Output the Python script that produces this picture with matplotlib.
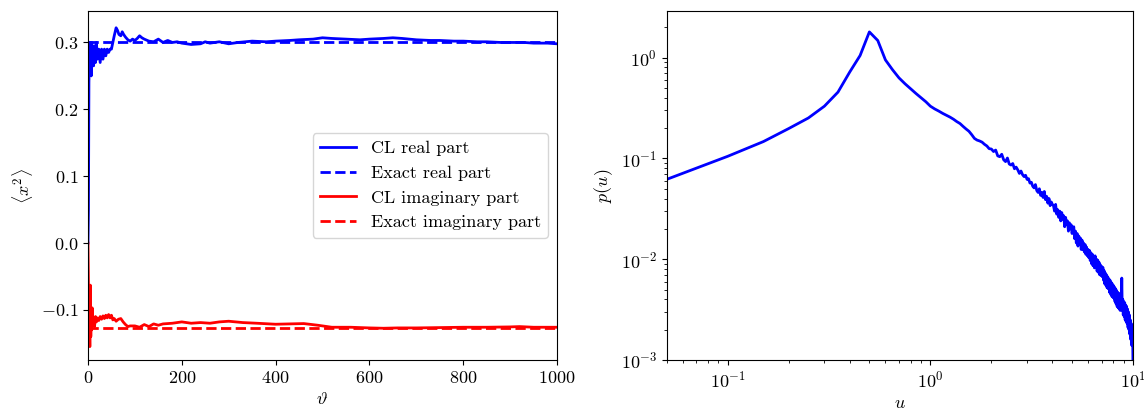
import numpy as np
import matplotlib
matplotlib.use("Agg")
import matplotlib.pyplot as plt

plt.rcParams["font.family"] = "serif"
plt.rcParams["font.serif"] = ["cmr10", "DejaVu Serif"]
plt.rcParams["mathtext.fontset"] = "cm"
plt.rcParams["axes.formatter.use_mathtext"] = True
plt.rcParams["axes.unicode_minus"] = True
plt.rcParams["font.size"] = 13

# --- left panel: running averages of <x^2> ---
theta_re = [0, 1, 2, 3, 4, 5, 6, 7, 8, 9, 10, 12, 14, 16, 18, 20, 23, 26, 29, 32,
            35, 38, 41, 44, 47, 50, 53, 56, 60, 63, 66, 70, 73, 76, 80, 85, 90, 95,
            100, 105, 110, 115, 120, 130, 140, 150, 160, 170, 180, 190, 200, 210,
            220, 240, 250, 260, 280, 300, 320, 350, 380, 400, 430, 450, 480, 500,
            520, 550, 580, 600, 630, 650, 670, 700, 730, 750, 780, 800, 830, 850,
            880, 900, 930, 950, 980, 1000]
cl_re = [0.0, 0.05, 0.24, 0.28, 0.30, 0.26, 0.29, 0.25, 0.30, 0.27, 0.29, 0.265,
         0.295, 0.27, 0.30, 0.275, 0.29, 0.27, 0.29, 0.275, 0.29, 0.28, 0.29, 0.285,
         0.29, 0.29, 0.30, 0.31, 0.322, 0.318, 0.312, 0.310, 0.316, 0.312, 0.308,
         0.304, 0.302, 0.305, 0.303, 0.306, 0.310, 0.307, 0.305, 0.302, 0.301, 0.305,
         0.300, 0.303, 0.300, 0.301, 0.299, 0.298, 0.297, 0.298, 0.301, 0.299,
         0.301, 0.298, 0.300, 0.302, 0.301, 0.302, 0.303, 0.304, 0.305, 0.307,
         0.306, 0.305, 0.304, 0.305, 0.306, 0.307, 0.306, 0.304, 0.303, 0.303,
         0.302, 0.302, 0.301, 0.301, 0.300, 0.300, 0.300, 0.299, 0.299, 0.298]

theta_im = [0, 1, 2, 3, 4, 5, 6, 7, 8, 9, 10, 12, 14, 16, 18, 20, 23, 26, 29, 32,
            35, 38, 41, 44, 47, 50, 53, 56, 60, 65, 70, 75, 80, 85, 90, 100, 110,
            120, 130, 140, 150, 160, 180, 200, 220, 240, 260, 280, 300, 330, 360,
            400, 430, 460, 490, 520, 560, 600, 630, 660, 700, 750, 800, 850, 900,
            920, 950, 1000]
cl_im = [0.0, -0.06, -0.15, -0.10, -0.155, -0.063, -0.14, -0.10, -0.13, -0.097,
         -0.12, -0.112, -0.125, -0.110, -0.118, -0.112, -0.116, -0.110, -0.114,
         -0.109, -0.113, -0.108, -0.112, -0.107, -0.112, -0.108, -0.115, -0.113,
         -0.117, -0.114, -0.113, -0.118, -0.122, -0.125, -0.124, -0.124, -0.126,
         -0.122, -0.125, -0.121, -0.123, -0.121, -0.120, -0.118, -0.120, -0.119,
         -0.120, -0.118, -0.117, -0.119, -0.120, -0.1215, -0.121, -0.1205, -0.123,
         -0.126, -0.126, -0.127, -0.1275, -0.127, -0.127, -0.1265, -0.126, -0.126,
         -0.1255, -0.125, -0.126, -0.126]

exact_re = 0.3
exact_im = -0.1275

# --- right panel: histogram of u, bins of width 0.05 ---
p_u = [0.062, 0.105, 0.147, 0.198, 0.252, 0.330, 0.455, 0.72, 1.05, 1.80,
       1.48, 0.95, 0.76, 0.63, 0.55, 0.49, 0.44, 0.40, 0.365, 0.33,
       0.31, 0.295, 0.28, 0.268, 0.257, 0.245, 0.232, 0.222, 0.208, 0.196,
       0.186, 0.172, 0.158, 0.152, 0.149, 0.145, 0.138, 0.133, 0.125, 0.124,
       0.117, 0.121, 0.106, 0.104, 0.110, 0.097, 0.093, 0.101, 0.088, 0.086,
       0.089, 0.079, 0.082, 0.077, 0.071, 0.075, 0.069, 0.066, 0.068, 0.062,
       0.063, 0.057, 0.058, 0.053, 0.051, 0.055, 0.048, 0.046, 0.050, 0.043,
       0.046, 0.041, 0.047, 0.039, 0.042, 0.036, 0.040, 0.034, 0.037, 0.035,
       0.034, 0.030, 0.035, 0.028, 0.031, 0.026, 0.030, 0.024, 0.029, 0.025,
       0.027, 0.021, 0.026, 0.022, 0.024, 0.019, 0.023, 0.020, 0.022, 0.018,
       0.019, 0.021, 0.016, 0.019, 0.0145, 0.018, 0.0135, 0.017, 0.0150, 0.0162,
       0.0125, 0.0155, 0.0125, 0.0145, 0.0118, 0.0140, 0.0112, 0.0132, 0.0108, 0.0125,
       0.0104, 0.0122, 0.0097, 0.0116, 0.0090, 0.0112, 0.0086, 0.0106, 0.0082, 0.0108,
       0.0085, 0.0100, 0.0076, 0.0098, 0.0074, 0.0093, 0.0070, 0.0088, 0.0069, 0.0085,
       0.0067, 0.0083, 0.0062, 0.0077, 0.0057, 0.0073, 0.0055, 0.0070, 0.0052, 0.0067,
       0.0051, 0.0064, 0.0047, 0.0062, 0.0045, 0.0059, 0.0043, 0.0057, 0.0042, 0.0055,
       0.0041, 0.0053, 0.0038, 0.0051, 0.0036, 0.0049, 0.0034, 0.0047, 0.0033, 0.0046,
       0.0032, 0.0043, 0.0031, 0.0041, 0.0032, 0.0065, 0.0031, 0.0040, 0.0028, 0.0038,
       0.0027, 0.0037, 0.0025, 0.0035, 0.0024, 0.0034, 0.0023, 0.0032, 0.0021, 0.0030,
       0.0020, 0.0028, 0.0018, 0.0025, 0.0016, 0.0023, 0.0014, 0.0020, 0.0022, 0.0008]
u = np.linspace(0.05, 10.0, len(p_u))

fig = plt.figure(figsize=(11.44, 4.12), dpi=100)
ax1 = fig.add_axes([0.0769, 0.1262, 0.41, 0.847])
ax2 = fig.add_axes([0.5828, 0.1262, 0.4076, 0.847])

ax1.plot(theta_re, cl_re, color="blue", lw=2, label="CL real part")
ax1.axhline(exact_re, color="blue", lw=2, ls="--", label="Exact real part")
ax1.plot(theta_im, cl_im, color="red", lw=2, label="CL imaginary part")
ax1.axhline(exact_im, color="red", lw=2, ls="--", label="Exact imaginary part")
ax1.set_xlim(0, 1000)
ax1.set_ylim(-0.175, 0.347)
ax1.set_yticks([-0.1, 0.0, 0.1, 0.2, 0.3])
ax1.set_xlabel(r"$\vartheta$")
ax1.set_ylabel(r"$\langle x^2\rangle$")
ax1.legend(loc="center right")

ax2.loglog(u, p_u, color="blue", lw=2)
ax2.set_xlim(0.05, 10)
ax2.set_ylim(1e-3, 2.9)
ax2.set_xlabel(r"$u$")
ax2.set_ylabel(r"$p(u)$")

fig.savefig("out.png", dpi=100)
